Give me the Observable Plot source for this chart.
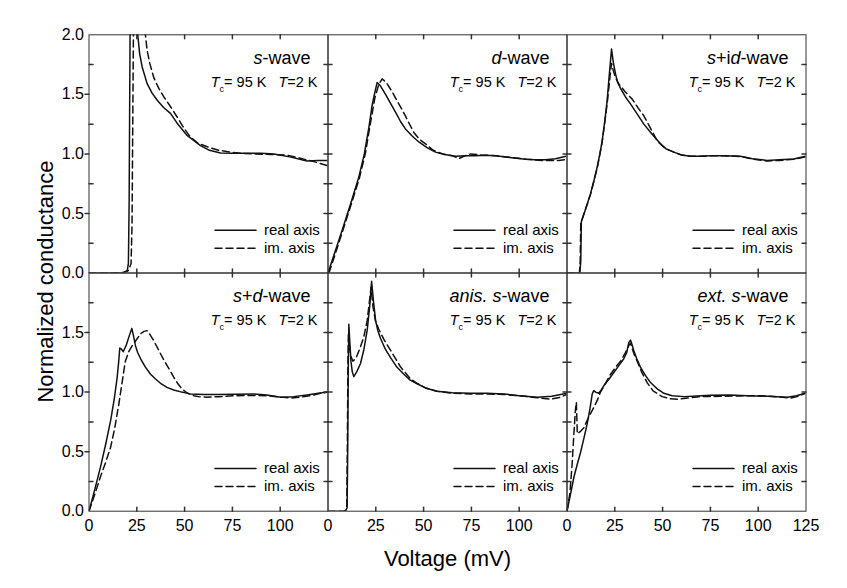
<!DOCTYPE html>
<html>
<head>
<meta charset="utf-8">
<script src="https://cdn.jsdelivr.net/npm/d3@7"></script>
<script src="https://cdn.jsdelivr.net/npm/@observablehq/plot@0.6"></script>
<style>
  html, body { margin: 0; padding: 0; background: #fff; }
  #chart { width: 847px; height: 588px; }
</style>
</head>
<body>
<div id="chart"></div>
<script>
// ---------- data (voltage mV, normalized conductance) ----------
const sWaveReal = [[0,0],[10,0],[18,0.005],[20,0.02],[20.6,0.08],[21,0.6],[21.3,1.5],[21.7,2.6],[23,3.3],[24.5,2.6],[25.5,2.0],[26.5,1.84],[27.8,1.73],[30.4,1.59],[33,1.51],[35.7,1.45],[39,1.39],[42.6,1.34],[46,1.26],[51.3,1.155],[58.3,1.07],[63,1.03],[68.8,1.007],[75,1.005],[82.7,1.005],[90,1.005],[96.7,1.0],[105,0.975],[114,0.94],[120,0.945],[125,0.945]];
const sWaveIm = [[0,0],[10,0],[19,0.005],[20.5,0.02],[21.3,0.05],[22,0.08],[22.5,0.4],[23,1.5],[23.5,2.6],[26,3.4],[28.5,2.4],[29.5,2.0],[30.4,1.87],[31.8,1.76],[33.9,1.64],[36.5,1.55],[39.1,1.48],[42.5,1.40],[46.1,1.31],[49.5,1.22],[53.1,1.14],[57,1.09],[61.8,1.06],[68,1.03],[74,1.015],[80,1.005],[86.2,1.0],[95,0.995],[103.6,0.99],[110,0.965],[117.6,0.935],[125,0.9]];

const dWaveReal = [[0,0],[3.5,0.17],[7.4,0.36],[12,0.59],[16.1,0.805],[19,1.0],[21.4,1.225],[23,1.4],[24,1.48],[25.7,1.6],[27.5,1.57],[30.1,1.50],[32.5,1.43],[35.3,1.35],[38,1.27],[40.5,1.21],[44,1.15],[47.5,1.10],[52,1.05],[56.2,1.015],[61,0.995],[66.7,0.98],[72,0.985],[77.1,0.985],[82,0.988],[87.6,0.985],[95,0.97],[103.3,0.956],[108,0.95],[113.8,0.95],[119,0.96],[124.5,0.98]];
const dWaveIm = [[0.5,0],[3.8,0.16],[7.6,0.35],[12,0.57],[16.3,0.79],[19.5,1.0],[22,1.24],[24.5,1.47],[26.5,1.58],[28.3,1.63],[30.5,1.60],[33.6,1.52],[36,1.45],[38.8,1.37],[42,1.27],[44.9,1.18],[48,1.12],[51,1.085],[55,1.03],[60,1.0],[65,0.985],[68.4,0.96],[71,0.98],[74.5,1.0],[80,0.99],[88,0.985],[96,0.97],[104,0.955],[112,0.945],[120.7,0.945],[125,0.955]];

const sidWaveReal = [[0,0],[6.7,0],[7.2,0.1],[7.5,0.43],[10,0.55],[12.3,0.666],[14,0.77],[15.8,0.89],[17.2,1.0],[18.4,1.11],[19.8,1.28],[21,1.45],[22.3,1.70],[23.3,1.88],[24.2,1.77],[25.4,1.67],[26.5,1.60],[28,1.55],[30.5,1.48],[33.2,1.42],[36.5,1.34],[40.2,1.25],[44.5,1.165],[48.9,1.085],[52,1.04],[55.9,1.015],[60,0.99],[64.6,0.98],[70,0.98],[75,0.985],[82,0.985],[90.7,0.98],[97,0.96],[104.7,0.945],[111,0.95],[118.6,0.958],[124.7,0.98]];
const sidWaveIm = [[0,0],[6.5,0],[6.9,0.1],[7.2,0.42],[10,0.55],[12.3,0.66],[15.8,0.88],[18.4,1.10],[21,1.42],[22.5,1.65],[23.3,1.76],[24.2,1.70],[25.4,1.64],[27,1.59],[30.5,1.52],[34.1,1.46],[37,1.39],[40.2,1.32],[43.5,1.22],[47.2,1.11],[51,1.05],[55.9,1.015],[60,0.99],[64.6,0.98],[70,0.98],[75,0.985],[82,0.985],[90.7,0.978],[97,0.958],[104.7,0.94],[111,0.945],[118.6,0.955],[124.7,0.975]];

const sdWaveReal = [[0,0],[3,0.18],[6,0.37],[8.7,0.56],[11.3,0.76],[13.2,0.94],[14.7,1.12],[15.5,1.25],[16.1,1.37],[17,1.36],[17.9,1.34],[18.8,1.37],[19.6,1.40],[21,1.47],[22.4,1.535],[23.3,1.47],[24.3,1.39],[25.5,1.33],[27,1.28],[29.5,1.21],[32.2,1.15],[34.8,1.11],[37.4,1.074],[40.8,1.04],[44.3,1.018],[48.5,1.0],[53,0.985],[60,0.98],[67,0.98],[77,0.982],[86.2,0.985],[93,0.975],[100.2,0.957],[107,0.962],[114,0.976],[120,0.99],[124.6,1.0]];
const sdWaveIm = [[0,0],[3,0.14],[6,0.29],[8.7,0.41],[11.3,0.537],[13.5,0.7],[15.6,0.90],[17.3,1.08],[19,1.26],[20.8,1.34],[22.6,1.39],[24.8,1.44],[27,1.49],[28.8,1.51],[30.4,1.516],[32,1.48],[33.9,1.43],[36.5,1.35],[39.1,1.27],[41.7,1.20],[44.3,1.125],[46.5,1.07],[48.7,1.027],[51.5,0.99],[54.8,0.97],[58,0.96],[61.7,0.957],[68,0.962],[75.7,0.97],[85,0.972],[93.2,0.97],[99,0.96],[105.4,0.95],[111,0.958],[117.6,0.976],[121,0.99],[125,1.0]];

const anisWaveReal = [[0,0],[8,0],[9.3,0.005],[10,0.03],[10.3,0.5],[10.6,1.2],[10.9,1.57],[11.3,1.45],[12,1.26],[12.7,1.17],[13.5,1.13],[15,1.17],[17,1.24],[18.8,1.36],[20.5,1.52],[21.8,1.72],[22.8,1.93],[23.8,1.76],[24.9,1.6],[26,1.52],[27.5,1.45],[30,1.36],[32.7,1.29],[36,1.21],[39.7,1.15],[43,1.10],[46.6,1.07],[51,1.035],[57,1.007],[65,0.995],[74.5,0.99],[83,0.99],[91.9,0.985],[100,0.97],[109.4,0.957],[117,0.965],[125,0.99]];
const anisWaveIm = [[0,0],[8,0],[9.2,0.005],[9.8,0.03],[10.1,0.5],[10.4,1.2],[10.7,1.50],[11.2,1.38],[12,1.30],[13,1.26],[14.5,1.28],[16.5,1.36],[18.7,1.46],[20.5,1.6],[21.8,1.78],[22.5,1.88],[23.5,1.72],[24.8,1.6],[26.5,1.53],[29.3,1.44],[32,1.37],[35,1.29],[38,1.21],[43.2,1.11],[47,1.07],[51,1.035],[57,1.007],[65,0.99],[74.5,0.985],[83,0.985],[91.9,0.98],[100,0.97],[108,0.955],[116.4,0.94],[121,0.955],[125,0.98]];

const extWaveReal = [[0,0],[1.8,0.14],[3.6,0.285],[5.3,0.39],[7.1,0.495],[8.8,0.61],[10.5,0.73],[12,0.86],[13.2,0.985],[14,1.013],[15,1.0],[16.6,0.99],[18,1.02],[19.3,1.055],[22,1.11],[24.5,1.165],[27,1.22],[29.7,1.28],[31.2,1.33],[32.3,1.415],[33.2,1.437],[34,1.40],[34.9,1.35],[36.5,1.28],[38.4,1.21],[41,1.14],[43.7,1.08],[47,1.03],[50.7,0.99],[55,0.97],[61.2,0.962],[68,0.968],[75.1,0.973],[85,0.975],[94.3,0.97],[105,0.965],[115.2,0.957],[120,0.97],[124.5,0.99]];
const extWaveIm = [[0,0],[1.5,0.15],[2.7,0.4],[3.6,0.65],[4.4,0.85],[4.9,0.915],[5.2,0.75],[5.4,0.65],[7,0.67],[8.8,0.70],[10.5,0.76],[12.3,0.82],[14,0.87],[15.8,0.93],[17.5,1.0],[20,1.07],[22.8,1.15],[25.5,1.21],[28,1.26],[30.5,1.33],[32.3,1.39],[33.2,1.41],[34.2,1.36],[35.3,1.31],[36.7,1.26],[39,1.17],[41.9,1.08],[45,1.01],[49.8,0.962],[54,0.945],[57.8,0.94],[63,0.95],[70,0.962],[80,0.965],[90,0.968],[101.2,0.97],[110,0.96],[117,0.95],[121,0.965],[124.5,0.99]];

// ---------- labels & ticks ----------
const panelTitles = ["*s*-wave", "*d*-wave", "*s*+i*d*-wave", "*s*+*d*-wave", "*anis. s*-wave", "*ext. s*-wave"];
const cols = ["c0", "c1", "c2"];
const rows = ["top", "bottom"];
const tcSymbol = "T", tcSub = "c", tcValue = "= 95 K", tSymbol = "T", tValue = "=2 K";
const legendReal = "real axis", legendIm = "im. axis";
const xLabel = "Voltage (mV)", yLabel = "Normalized conductance";
const xDomain = [0, 125], yDomain = [0, 2];
const xTickValues = [0, 25, 50, 75, 100];
const xTickLastExtra = [125];
const xInnerTicks = [25, 50, 75, 100];
const yTickLabelsTop = [0, 0.5, 1, 1.5, 2];
const yTickLabelsBottom = [0, 0.5, 1, 1.5];
const yMinorTicks = [0.25, 0.75, 1.25, 1.75];
const yMajorTicks = [0.5, 1, 1.5];

// ---------- build table ----------
const seriesList = [
  [sWaveReal, sWaveIm], [dWaveReal, dWaveIm], [sidWaveReal, sidWaveIm],
  [sdWaveReal, sdWaveIm], [anisWaveReal, anisWaveIm], [extWaveReal, extWaveIm]
];
const table = [];
seriesList.forEach(([re, im], p) => {
  const col = cols[p % 3], row = rows[Math.floor(p / 3)];
  re.forEach(([v, g]) => table.push({panel: p, kind: "real", col, row, v, g}));
  im.forEach(([v, g]) => table.push({panel: p, kind: "im", col, row, v, g}));
});
const titleRows = panelTitles.map((t, p) => ({label: t, col: cols[p % 3], row: rows[Math.floor(p / 3)]}));

const xLabelRows = [];
cols.forEach((c, i) => {
  const vals = i === cols.length - 1 ? xTickValues.concat(xTickLastExtra) : xTickValues;
  vals.forEach(v => xLabelRows.push({col: c, v}));
});
const yLabelRows = yTickLabelsTop.map(v => ({row: "top", v})).concat(yTickLabelsBottom.map(v => ({row: "bottom", v})));
const innerLeftMajor = [];
cols.slice(1).forEach(c => rows.forEach(r => yMajorTicks.forEach(v => innerLeftMajor.push({col: c, row: r, v}))));
const outerLeftMajor = [];
rows.forEach(r => yMajorTicks.forEach(v => outerLeftMajor.push({col: cols[0], row: r, v})));
const yAllTicks = yMinorTicks.concat(yMajorTicks);

const lineShape = {draw(context, l) { context.moveTo(0, 0); context.lineTo(0, -l); }};
const ink = "#111";
const axisInk = "#333";
const tickLen = 4;
const subtitlePlaceholder = tcSymbol + tcSub + tcValue + tSymbol + tValue;

const chart = Plot.plot({
  width: 847,
  height: 588,
  marginLeft: 88.5,
  marginRight: 41.5,
  marginTop: 34.3,
  marginBottom: 77.3,
  style: {fontFamily: "'Liberation Sans', Arial, Helvetica, sans-serif", fontSize: "16px", color: "#000", background: "#fff", overflow: "visible"},
  fx: {domain: cols, padding: 0, axis: null, round: false},
  fy: {domain: rows, padding: 0, axis: null, round: false},
  x: {domain: xDomain, axis: null},
  y: {domain: yDomain, axis: null},
  marks: [
    // curves
    Plot.line(table.filter(d => d.kind === "real"), {x: "v", y: "g", fx: "col", fy: "row", z: "panel", stroke: ink, strokeWidth: 1.5, clip: true}),
    Plot.line(table.filter(d => d.kind === "im"), {x: "v", y: "g", fx: "col", fy: "row", z: "panel", stroke: ink, strokeWidth: 1.5, strokeDasharray: "7,4", clip: true}),
    // frames
    Plot.frame({stroke: axisInk, strokeWidth: 1}),
    // inward ticks
    Plot.vector(yMinorTicks, {x: () => xDomain[0], y: d => d, rotate: 90, length: tickLen, anchor: "start", shape: lineShape, stroke: axisInk}),
    Plot.vector(innerLeftMajor, {x: () => xDomain[0], y: "v", fx: "col", fy: "row", rotate: 90, length: tickLen, anchor: "start", shape: lineShape, stroke: axisInk}),
    Plot.vector(outerLeftMajor, {x: () => xDomain[0], y: "v", fx: "col", fy: "row", rotate: -90, length: tickLen, anchor: "start", shape: lineShape, stroke: axisInk}),
    Plot.vector(yAllTicks, {x: () => xDomain[1], y: d => d, rotate: -90, length: tickLen, anchor: "start", shape: lineShape, stroke: axisInk}),
    Plot.vector(xInnerTicks, {x: d => d, y: () => yDomain[0], rotate: 0, length: tickLen, anchor: "start", shape: lineShape, stroke: axisInk}),
    Plot.vector(xInnerTicks, {x: d => d, y: () => yDomain[1], rotate: 180, length: tickLen, anchor: "start", shape: lineShape, stroke: axisInk}),
    // tick labels
    Plot.text(xLabelRows, {x: "v", fx: "col", fy: () => "bottom", text: d => String(d.v), frameAnchor: "bottom", dy: 19.3, lineAnchor: "bottom", textAnchor: "middle", fontSize: 16}),
    Plot.text(yLabelRows, {y: "v", fy: "row", fx: () => cols[0], text: d => d3.format(".1f")(d.v), frameAnchor: "left", dx: -5, textAnchor: "end", lineAnchor: "middle", fontSize: 16}),
    // axis titles
    Plot.text([xLabel], {fx: () => cols[1], fy: () => "bottom", frameAnchor: "bottom", dy: 54.5, lineAnchor: "bottom", textAnchor: "middle", fontSize: 22}),
    Plot.text([yLabel], {fx: () => cols[0], fy: () => "bottom", frameAnchor: "top-left", dx: -36.5, dy: 8.5, rotate: -90, lineAnchor: "bottom", textAnchor: "middle", fontSize: 22}),
    // panel titles
    Plot.text(titleRows, {fx: "col", fy: "row", text: "label", frameAnchor: "top-right", dx: -17.5, dy: 29, textAnchor: "end", lineAnchor: "bottom", fontSize: 18}),
    Plot.text([subtitlePlaceholder], {frameAnchor: "top-right", dx: -10.5, dy: 51.7, textAnchor: "end", lineAnchor: "bottom", fontSize: 14.5}),
    // legends
    Plot.vector([0], {frameAnchor: "bottom-right", dx: -113, dy: -42.7, rotate: 90, length: 41, anchor: "start", shape: lineShape, stroke: ink, strokeWidth: 1.5}),
    Plot.vector([0], {frameAnchor: "bottom-right", dx: -113, dy: -24.7, rotate: 90, length: 41, anchor: "start", shape: lineShape, stroke: ink, strokeWidth: 1.5, strokeDasharray: "7,4"}),
    Plot.text([legendReal], {frameAnchor: "bottom-right", dx: -64, dy: -42.7, textAnchor: "start", lineAnchor: "middle", fontSize: 15}),
    Plot.text([legendIm], {frameAnchor: "bottom-right", dx: -64, dy: -24.7, textAnchor: "start", lineAnchor: "middle", fontSize: 15})
  ]
});

// rich text: italics and subscript (post-processing of the text marks)
const NS = "http://www.w3.org/2000/svg";
const titleSet = new Set(panelTitles);
chart.querySelectorAll("text").forEach(t => {
  const content = t.textContent;
  if (titleSet.has(content)) {
    const parts = content.split("*");
    t.textContent = "";
    parts.forEach((seg, i) => {
      if (!seg) return;
      const ts = document.createElementNS(NS, "tspan");
      if (i % 2 === 1) ts.setAttribute("font-style", "italic");
      ts.textContent = seg;
      t.appendChild(ts);
    });
  } else if (content === subtitlePlaceholder) {
    t.textContent = "";
    const add = (txt, attrs) => {
      const ts = document.createElementNS(NS, "tspan");
      for (const k in attrs) ts.setAttribute(k, attrs[k]);
      ts.textContent = txt;
      t.appendChild(ts);
    };
    add(tcSymbol, {"font-style": "italic"});
    add(tcSub, {"font-size": "9px", dy: "5"});
    add(tcValue, {dy: "-5"});
    add(tSymbol, {"font-style": "italic", dx: "12"});
    add(tValue, {});
  }
});

document.getElementById("chart").appendChild(chart);
</script>
</body>
</html>
